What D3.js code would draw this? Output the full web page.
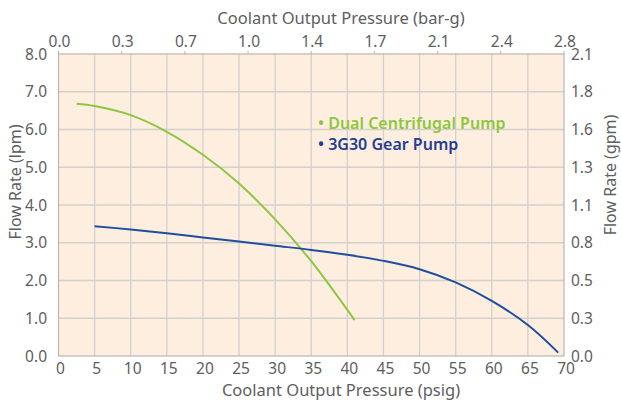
<!DOCTYPE html>
<html>
<head>
<meta charset="utf-8">
<script src="https://cdn.jsdelivr.net/npm/d3@7"></script>
<style>
  body { margin: 0; background: #fff; }
  svg text { font-family: "Noto Sans", sans-serif; fill: #5d5e60; }
</style>
</head>
<body>
<div class="canva"></div>
<script>
// values
const psigTicks = [0, 5, 10, 15, 20, 25, 30, 35, 40, 45, 50, 55, 60, 65, 70];
const barTicks = [0, 0.35, 0.7, 1.05, 1.4, 1.75, 2.1, 2.45, 2.8];
const barLabels = ['0.0', '0.3', '0.7', '1.0', '1.4', '1.7', '2.1', '2.4', '2.8'];
const lpmTicks = [0, 1, 2, 3, 4, 5, 6, 7, 8];
const gpmLabels = ['0.0', '0.3', '0.5', '0.8', '1.1', '1.3', '1.6', '1.8', '2.1'];

const centPsig = [2.5, 5, 10, 15, 20, 25, 30, 35, 41];
const centLpm  = [6.68, 6.62, 6.38, 5.94, 5.33, 4.57, 3.62, 2.51, 0.95];

const gearPsig = [5, 10, 15, 20, 25, 30, 35, 40, 45, 50, 55, 60, 65, 69.2];
const gearLpm  = [3.44, 3.35, 3.25, 3.14, 3.03, 2.92, 2.81, 2.68, 2.52, 2.30, 1.95, 1.46, 0.82, 0.09];

const width = 621, height = 400;
const plotL = 58.5, plotR = 564, plotT = 54, plotB = 356;

const svg = d3.select('.canva').append('svg')
    .attr('width', width)
    .attr('height', height);

const x = d3.scaleLinear().domain([0, 70]).range([plotL, plotR]);
const xTop = d3.scaleLinear().domain([0, 2.8]).range([plotL, plotR]);
const y = d3.scaleLinear().domain([0, 8]).range([plotB, plotT]);

// plot background
svg.append('rect')
    .attr('x', plotL).attr('y', plotT)
    .attr('width', plotR - plotL).attr('height', plotB - plotT)
    .attr('fill', '#fdeee0');

// grid
svg.append('g').selectAll('line')
    .data(psigTicks.slice(1, -1))
    .enter().append('line')
    .attr('x1', d => x(d)).attr('x2', d => x(d))
    .attr('y1', plotT).attr('y2', plotB)
    .attr('stroke', '#d4d0cc').attr('stroke-width', 1.3);

svg.append('g').selectAll('line')
    .data(lpmTicks.slice(1, -1))
    .enter().append('line')
    .attr('x1', plotL).attr('x2', plotR)
    .attr('y1', d => y(d)).attr('y2', d => y(d))
    .attr('stroke', '#d4d0cc').attr('stroke-width', 1.3);

// frame
svg.append('rect')
    .attr('x', plotL).attr('y', plotT)
    .attr('width', plotR - plotL).attr('height', plotB - plotT)
    .attr('fill', 'none')
    .attr('stroke', '#b9b6b3').attr('stroke-width', 1.2);

// top ticks
svg.append('g').selectAll('line')
    .data(barTicks)
    .enter().append('line')
    .attr('x1', d => xTop(d)).attr('x2', d => xTop(d))
    .attr('y1', plotT - 3).attr('y2', plotT)
    .attr('stroke', '#b9b6b3');

// tick labels
svg.append('g').selectAll('text')
    .data(psigTicks)
    .enter().append('text')
    .attr('x', d => x(d) + 2).attr('y', 374)
    .attr('text-anchor', 'middle')
    .attr('font-size', 15.5)
    .text(d => d);

svg.append('g').selectAll('text')
    .data(barTicks)
    .enter().append('text')
    .attr('x', d => xTop(d) + 1).attr('y', 47)
    .attr('text-anchor', 'middle')
    .attr('font-size', 15.5)
    .text((d, i) => barLabels[i]);

svg.append('g').selectAll('text')
    .data(lpmTicks)
    .enter().append('text')
    .attr('x', 47).attr('y', d => y(d) + 5.5)
    .attr('text-anchor', 'end')
    .attr('font-size', 15.5)
    .text(d => d.toFixed(1));

svg.append('g').selectAll('text')
    .data(lpmTicks)
    .enter().append('text')
    .attr('x', 571).attr('y', d => y(d) + 5.5)
    .attr('font-size', 15.5)
    .text((d, i) => gpmLabels[i]);

// axis titles
svg.append('text')
    .attr('x', 341).attr('y', 24)
    .attr('text-anchor', 'middle').attr('font-size', 16.5)
    .text('Coolant Output Pressure (bar-g)');

svg.append('text')
    .attr('x', 341).attr('y', 396)
    .attr('text-anchor', 'middle').attr('font-size', 16.5)
    .text('Coolant Output Pressure (psig)');

svg.append('text')
    .attr('transform', 'translate(21,182) rotate(-90)')
    .attr('text-anchor', 'middle').attr('font-size', 16)
    .text('Flow Rate (lpm)');

svg.append('text')
    .attr('transform', 'translate(616,175) rotate(-90)')
    .attr('text-anchor', 'middle').attr('font-size', 16)
    .text('Flow Rate (gpm)');

// curves
const line = d3.line()
    .x(d => x(d[0]))
    .y(d => y(d[1]))
    .curve(d3.curveCatmullRom.alpha(0.5));

svg.append('path')
    .datum(d3.zip(centPsig, centLpm))
    .attr('d', line)
    .attr('fill', 'none')
    .attr('stroke', '#8dc63f')
    .attr('stroke-width', 2);

svg.append('path')
    .datum(d3.zip(gearPsig, gearLpm))
    .attr('d', line)
    .attr('fill', 'none')
    .attr('stroke', '#1f4e9e')
    .attr('stroke-width', 2);

// legend
svg.append('text')
    .attr('x', 318).attr('y', 129)
    .attr('font-size', 16)
    .style('font-weight', 600)
    .style('fill', '#8dc63f')
    .text('\u2022 Dual Centrifugal Pump');

svg.append('text')
    .attr('x', 318).attr('y', 150)
    .attr('font-size', 16)
    .style('font-weight', 600)
    .style('fill', '#243e90')
    .text('\u2022 3G30 Gear Pump');
</script>
</body>
</html>
